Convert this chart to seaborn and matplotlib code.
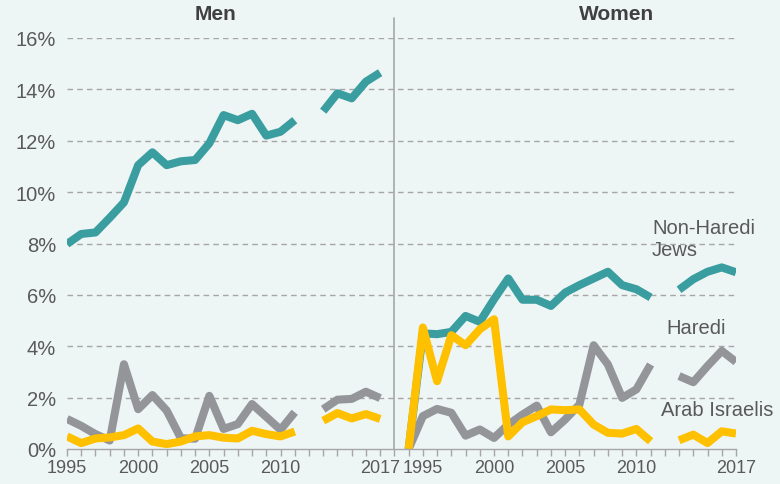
import matplotlib
matplotlib.use("Agg")
import numpy as np
import pandas as pd
import matplotlib.pyplot as plt
import seaborn as sns

years = list(range(1995, 2018))
tick_years = [1995, 2000, 2005, 2010, 2017]
series_names = ["Non-Haredi Jews", "Haredi", "Arab Israelis"]

# values in %, None = no data (2012)
men_non_haredi = [7.98, 8.37, 8.43, 9.0, 9.6, 11.05, 11.55, 11.05, 11.2, 11.25, 11.9, 13.0,
                  12.8, 13.05, 12.2, 12.35, 12.8, None, 13.15, 13.85, 13.65, 14.3, 14.65]
men_haredi = [1.17, 0.9, 0.58, 0.33, 3.3, 1.55, 2.1, 1.5, 0.42, 0.4, 2.07, 0.78,
              0.97, 1.75, 1.25, 0.75, 1.43, None, 1.55, 1.92, 1.95, 2.23, 1.98]
men_arab = [0.49, 0.23, 0.41, 0.45, 0.54, 0.8, 0.29, 0.19, 0.29, 0.49, 0.54, 0.44,
            0.41, 0.71, 0.58, 0.49, 0.68, None, 1.1, 1.4, 1.19, 1.36, 1.17]

women_non_haredi = [4.5, 4.47, 4.56, 5.18, 4.95, 5.83, 6.64, 5.81, 5.81, 5.57, 6.09, 6.38,
                    6.64, 6.9, 6.38, 6.22, 5.9, None, 6.2, 6.61, 6.9, 7.07, 6.88]
women_haredi = [1.28, 1.56, 1.41, 0.52, 0.76, 0.43, 0.95, 1.34, 1.69, 0.65, 1.15, 1.73,
                4.04, 3.29, 1.99, 2.32, 3.29, None, 2.84, 2.6, 3.23, 3.82, 3.39]
women_arab = [4.73, 2.64, 4.43, 4.04, 4.66, 5.05, 0.49, 1.04, 1.28, 1.54, 1.51, 1.54,
              0.95, 0.63, 0.6, 0.78, 0.3, None, 0.34, 0.56, 0.23, 0.69, 0.6]
# blank category before the women's block is plotted as zero in the original
women_lead_in = 0.0

colors = {"Non-Haredi Jews": "#3a9da0", "Haredi": "#939598", "Arab Israelis": "#ffc000"}

men = dict(zip(series_names, [men_non_haredi, men_haredi, men_arab]))
women = dict(zip(series_names, [women_non_haredi, women_haredi, women_arab]))

n = len(years)
divider_pos = n            # empty category between the panels
women_start = n + 2        # after divider and lead-in category

rows = []
for panel, data, start in [("Men", men, 0), ("Women", women, women_start)]:
    for name, vals in data.items():
        seg = 0
        if panel == "Women":
            rows.append((start - 1, women_lead_in, name, f"{panel}-{name}-0"))
        for i, v in enumerate(vals):
            if v is None:
                seg += 1
                continue
            rows.append((start + i, v, name, f"{panel}-{name}-{seg}"))
df = pd.DataFrame(rows, columns=["pos", "value", "series", "unit"])

sns.set_theme(style="white")
plt.rcParams["font.family"] = ["Liberation Sans", "DejaVu Sans"]

bg = "#eef5f5"
text_col = "#595959"
fig = plt.figure(figsize=(7.8, 4.85), dpi=100, facecolor=bg)
ax = fig.add_axes([67 / 780, 1 - 450 / 485, (736 - 67) / 780, (450 - 39) / 485])
ax.set_facecolor(bg)

for y in range(2, 17, 2):
    ax.axhline(y, color="#a6a6a6", lw=1, ls=(0, (4, 3)), zorder=0)

sns.lineplot(data=df, x="pos", y="value", hue="series", units="unit", estimator=None,
             hue_order=series_names, palette=colors, linewidth=5.8, legend=False,
             sort=False, ax=ax, solid_capstyle="butt", solid_joinstyle="round")

ax.axvline(divider_pos, ymin=0, ymax=(450 - 19) / (450 - 39), color="#a6a6a6", lw=1.2,
           clip_on=False, zorder=1)

ax.set_xlim(0, women_start + n - 1)
ax.set_ylim(0, 16)
ax.set_yticks(range(0, 17, 2))
ax.set_yticklabels([f"{v}%" for v in range(0, 17, 2)], fontsize=14.5, color=text_col)

xt = list(range(0, women_start + n))
xl = [""] * len(xt)
for start in (0, women_start):
    for ty in tick_years:
        xl[start + years.index(ty)] = str(ty)
ax.set_xticks(xt)
ax.set_xticklabels(xl, fontsize=13, color=text_col)
ax.tick_params(axis="x", length=5, color="#a6a6a6", width=1, direction="out", pad=2,
               bottom=True)
ax.tick_params(axis="y", length=0, pad=8)
ax.set_xlabel("")
ax.set_ylabel("")
for s in ["top", "right", "left"]:
    ax.spines[s].set_visible(False)
ax.spines["bottom"].set_color("#a6a6a6")
ax.spines["bottom"].set_linewidth(1)

fig.text(215 / 780, 1 - 15 / 485, "Men", ha="center", va="center", fontsize=15,
         fontweight="bold", color="#404040")
fig.text(617 / 780, 1 - 15 / 485, "Women", ha="center", va="center", fontsize=15,
         fontweight="bold", color="#404040")

ax.text(41.1, 9.0, "Non-Haredi\nJews", fontsize=14.5, color=text_col, va="top", ha="left",
        linespacing=1.2)
ax.text(42.1, 5.1, "Haredi", fontsize=14.5, color=text_col, va="top", ha="left")
ax.text(41.7, 1.9, "Arab Israelis", fontsize=14.5, color=text_col, va="top", ha="left")

fig.savefig("out.png", dpi=100, facecolor=bg)
